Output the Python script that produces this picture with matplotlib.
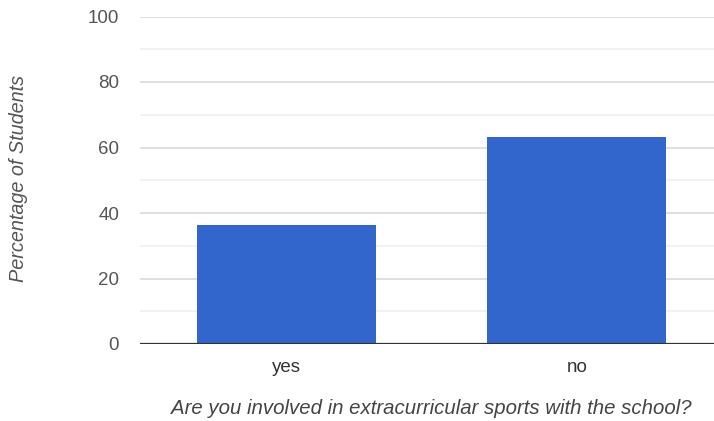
import matplotlib
matplotlib.use("Agg")
import matplotlib.pyplot as plt
import numpy as np

categories = ["yes", "no"]
values = [36.4, 63.2]
y_ticks = [0, 20, 40, 60, 80, 100]
y_minor = [10, 30, 50, 70, 90]
x_title = "Are you involved in extracurricular sports with the school?"
y_title = "Percentage of Students"

plt.rcParams['font.family'] = ['Liberation Sans', 'DejaVu Sans']

fig = plt.figure(figsize=(7.14, 4.21), dpi=100)
ax = fig.add_axes([140/714, 77/421, 574/714, 327.5/421])

x = np.arange(len(categories))
ax.bar(x, values, width=0.616, color="#3366cc", zorder=3)

ax.set_xlim(-0.504, 1.472)
ax.set_ylim(0, 100)
ax.set_yticks(y_ticks)
ax.set_yticks(y_minor, minor=True)
ax.set_xticks(x)
ax.set_xticklabels(categories)

ax.grid(axis="y", which="major", color="#d9d9d9", linewidth=1.2, zorder=0)
ax.grid(axis="y", which="minor", color="#f0f0f0", linewidth=1.2, zorder=0)
ax.axhline(0, color="#333333", linewidth=1.6, zorder=4)

for s in ax.spines.values():
    s.set_visible(False)

ax.tick_params(axis="both", which="both", length=0)
ax.tick_params(axis="y", pad=15, labelsize=13.5, labelcolor="#555555")
ax.tick_params(axis="x", pad=11, labelsize=13.5, labelcolor="#333333")

fig.text(171/714, 1 - 408/421, x_title, ha="left", va="center",
         fontsize=14.7, style="italic", color="#444444")
fig.text(19/714, 1 - 178/421, y_title, ha="center", va="center",
         rotation=90, fontsize=14.3, style="italic", color="#555555")

fig.savefig("out.png", dpi=100)
